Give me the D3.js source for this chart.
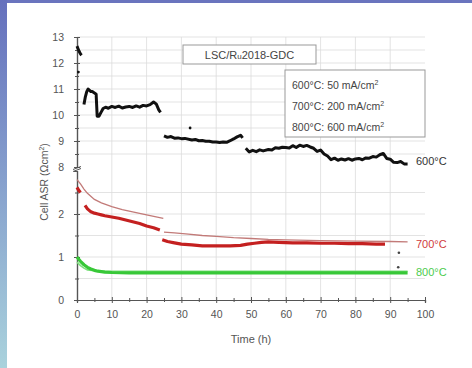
<!DOCTYPE html>
<html>
<head>
<meta charset="utf-8">
<script src="https://cdn.jsdelivr.net/npm/d3@7"></script>
<style>
  body { margin: 0; background: #fff; }
  svg { display: block; font-family: "Liberation Sans", Arial, sans-serif; }
</style>
</head>
<body>
<div id="chart"></div>
<script>
// 600°C (upper part of the broken axis)
var t600 = [0, 0.3, 0.6, 1.0, 1.3, null,
  2.0, 2.4, 2.8, 3.2, 3.6, 4.0, 4.4, 5.0, 5.5, 5.8, 6.3, 6.9, 7.5, 8.2, 9, 10, 11, 12, 13, 14, 15, 16, 17, 18, 19, 20, 21, 22, 22.8, 23.5, 24, null,
  25, 26, 27, 28, 29, 30, 31, 33, 34, 35, 36, 37, 38, 39, 40, 41, 42, 43, 44, 45, 46, 47, 47.6, null,
  48.5, 49.5, 50.5, 51.5, 52.5, 53.5, 55, 56, 57, 58, 59, 60, 61, 62, 63, 64, 65, 66, 67, 68, 69, 70, 71, 72, 73, 74, 75, 76, 77, 78, 79, 80, 81, 82, 83, 84, 85, 86, 87, 88, 89, 90, 91, 92, 93, 94, 95];
var v600 = [12.65, 12.55, 12.45, 12.35, 12.3, null,
  10.4, 10.7, 10.9, 11.0, 10.95, 10.9, 10.9, 10.85, 10.8, 9.95, 9.95, 10.1, 10.25, 10.3, 10.26, 10.33, 10.29, 10.34, 10.27, 10.31, 10.33, 10.29, 10.35, 10.3, 10.37, 10.35, 10.4, 10.5, 10.42, 10.2, 10.1, null,
  9.2, 9.14, 9.17, 9.11, 9.12, 9.09, 9.1, 9.04, 9.06, 9.01, 9.02, 8.99, 8.99, 8.96, 8.96, 8.94, 8.96, 8.95, 9.01, 9.08, 9.16, 9.22, 9.12, null,
  8.72, 8.58, 8.64, 8.59, 8.66, 8.62, 8.67, 8.65, 8.74, 8.72, 8.76, 8.75, 8.73, 8.82, 8.75, 8.84, 8.79, 8.83, 8.77, 8.72, 8.6, 8.65, 8.5, 8.42, 8.28, 8.34, 8.26, 8.31, 8.27, 8.32, 8.26, 8.31, 8.33, 8.28, 8.35, 8.34, 8.4, 8.38, 8.47, 8.52, 8.33, 8.3, 8.18, 8.17, 8.21, 8.12, 8.12];
var t600pts = [0.4, 32.5];
var v600pts = [11.65, 9.5];

// 700°C thick (red) and thin reference line
var t700 = [0, 0.5, 1.0, null,
  2.3, 3, 4, 5, 6, 7, 8, 10, 12, 14, 16, 18, 20, 22, 23.8, null,
  24.5, 26, 28, 30, 33, 36, 40, 44, 47, 49, 51, 53, 55, 58, 62, 66, 70, 74, 78, 82, 86, 88.5];
var v700 = [2.62, 2.55, 2.5, null,
  2.2, 2.12, 2.05, 2.02, 2.0, 1.98, 1.96, 1.93, 1.9, 1.86, 1.82, 1.78, 1.72, 1.68, 1.63, null,
  1.4, 1.36, 1.33, 1.3, 1.28, 1.26, 1.26, 1.26, 1.27, 1.3, 1.32, 1.34, 1.35, 1.34, 1.33, 1.33, 1.32, 1.32, 1.31, 1.31, 1.3, 1.3];
var t700thin = [0, 1, 2, 3, 5, 7, 10, 13, 16, 20, 24.8, null,
  25, 28, 32, 36, 40, 45, 50, 55, 60, 70, 80, 90, 95];
var v700thin = [2.8, 2.7, 2.58, 2.48, 2.34, 2.26, 2.17, 2.1, 2.05, 1.98, 1.9, null,
  1.58, 1.56, 1.53, 1.5, 1.48, 1.45, 1.43, 1.41, 1.4, 1.38, 1.37, 1.36, 1.35];

// 800°C thick and thin (green)
var t800 = [0, 0.5, 1, 2, 3, 4, 5, 6, 8, 10, 15, 20, 30, 40, 50, 60, 70, 80, 90, 95];
var v800 = [1.0, 0.95, 0.9, 0.82, 0.76, 0.72, 0.69, 0.67, 0.65, 0.64, 0.63, 0.63, 0.63, 0.63, 0.63, 0.63, 0.63, 0.63, 0.63, 0.63];
var t800thin = [0, 1, 2, 3, 5, 8, 12, 20, 40, 60, 80, 95];
var v800thin = [0.88, 0.8, 0.74, 0.7, 0.68, 0.67, 0.67, 0.67, 0.67, 0.67, 0.67, 0.67];
var tOut = [92.5, 92.3];
var vOut = [1.1, 0.76];

var xTicks = [0, 10, 20, 30, 40, 50, 60, 70, 80, 90, 100];
var yTicksLow = [0, 1, 2];
var yTicksHigh = [8, 9, 10, 11, 12, 13];
var legendLines = ["600°C: 50 mA/cm", "700°C: 200 mA/cm", "800°C: 600 mA/cm"];

var W = 472, H = 368;
var svg = d3.select("#chart").append("svg").attr("width", W).attr("height", H);

// frame of the slide
var grad = svg.append("defs").append("linearGradient")
    .attr("id", "side").attr("x1", 0).attr("y1", 0).attr("x2", 0).attr("y2", 1);
grad.append("stop").attr("offset", "0%").attr("stop-color", "#6570bd");
grad.append("stop").attr("offset", "55%").attr("stop-color", "#8aa6cf");
grad.append("stop").attr("offset", "100%").attr("stop-color", "#a9d2dc");
svg.append("rect").attr("x", 0).attr("y", 0).attr("width", W).attr("height", 3).attr("fill", "#6a74be");
svg.append("rect").attr("x", 0).attr("y", 0).attr("width", 7).attr("height", H).attr("fill", "url(#side)");

var x = d3.scaleLinear().domain([0, 100]).range([77, 425]);
var yLow = d3.scaleLinear().domain([0, 3]).range([300, 171]);
var yHigh = d3.scaleLinear().domain([8, 13]).range([167, 37]);

// grid
var grid = svg.append("g").attr("stroke", "#dcdcdc").attr("stroke-width", 0.8);
d3.range(10, 100, 10).forEach(function(d) {
  grid.append("line").attr("x1", x(d)).attr("x2", x(d)).attr("y1", yHigh(13)).attr("y2", yLow(0));
});
d3.range(8.5, 13.01, 0.5).forEach(function(d) {
  grid.append("line").attr("x1", x(0)).attr("x2", x(100)).attr("y1", yHigh(d)).attr("y2", yHigh(d));
});
d3.range(0.5, 2.6, 0.5).forEach(function(d) {
  grid.append("line").attr("x1", x(0)).attr("x2", x(100)).attr("y1", yLow(d)).attr("y2", yLow(d));
});

// axes
var axisCol = "#555";
var fmt = d3.format("d");
var xAxis = svg.append("g").attr("transform", "translate(0," + yLow(0) + ")")
    .call(d3.axisBottom(x).tickValues(xTicks).tickFormat(fmt).tickSize(3).tickPadding(8));
var xMinor = svg.append("g").attr("transform", "translate(0," + yLow(0) + ")")
    .call(d3.axisBottom(x).tickValues(d3.range(5, 100, 10)).tickSize(2).tickFormat(""));
var yAxisLow = svg.append("g").attr("transform", "translate(" + x(0) + ",0)")
    .call(d3.axisLeft(yLow).tickValues(yTicksLow).tickFormat(fmt).tickSize(3).tickPadding(10));
var yMinorLow = svg.append("g").attr("transform", "translate(" + x(0) + ",0)")
    .call(d3.axisLeft(yLow).tickValues([0.5, 1.5, 2.5]).tickSize(2).tickFormat(""));
var yAxisHigh = svg.append("g").attr("transform", "translate(" + x(0) + ",0)")
    .call(d3.axisLeft(yHigh).tickValues(yTicksHigh).tickFormat(fmt).tickSize(3).tickPadding(10));
var yMinorHigh = svg.append("g").attr("transform", "translate(" + x(0) + ",0)")
    .call(d3.axisLeft(yHigh).tickValues(d3.range(8.5, 13, 1)).tickSize(2).tickFormat(""));
[xAxis, xMinor, yAxisLow, yMinorLow, yAxisHigh, yMinorHigh].forEach(function(a) {
  a.selectAll(".domain").attr("stroke", axisCol).attr("stroke-width", 1.2);
  a.selectAll(".tick line").attr("stroke", axisCol);
  a.selectAll("text").attr("fill", "#555").attr("font-size", 10.5);
});
// ticks crossing the axis line
xAxis.selectAll(".tick line").attr("y1", -3);
xMinor.selectAll(".tick line").attr("y1", -2);
[yAxisLow, yAxisHigh].forEach(function(a) { a.selectAll(".tick line").attr("x1", 3); });
[yMinorLow, yMinorHigh].forEach(function(a) { a.selectAll(".tick line").attr("x1", 2); });
// axis break marks
svg.append("g").attr("stroke", axisCol).attr("stroke-width", 1)
  .selectAll("line").data([yHigh(8) + 1, yLow(3) - 1]).join("line")
  .attr("x1", x(0) - 4).attr("x2", x(0) + 4)
  .attr("y1", function(d) { return d + 1.5; }).attr("y2", function(d) { return d - 1.5; });

// axis titles
svg.append("text").attr("x", x(50)).attr("y", 343).attr("text-anchor", "middle")
  .attr("font-size", 11).attr("fill", "#555").text("Time (h)");
var yt = svg.append("text").attr("transform", "translate(48,182) rotate(-90)")
  .attr("text-anchor", "middle").attr("font-size", 10.5).attr("fill", "#555");
yt.append("tspan").text("Cell ASR (Ωcm");
yt.append("tspan").attr("dy", -4).attr("font-size", 7).text("2");
yt.append("tspan").attr("dy", 4).text(")");

// series
function lineOn(y) {
  return d3.line()
    .defined(function(d) { return d[0] !== null; })
    .x(function(d) { return x(d[0]); })
    .y(function(d) { return y(d[1]); });
}
function zipped(ts, vs) { return ts.map(function(t, i) { return [t, vs[i]]; }); }

svg.append("path").datum(zipped(t700thin, v700thin))
  .attr("fill", "none").attr("stroke", "#c27a78").attr("stroke-width", 1.3)
  .attr("d", lineOn(yLow));
svg.append("path").datum(zipped(t800thin, v800thin))
  .attr("fill", "none").attr("stroke", "#7ee07e").attr("stroke-width", 1.6)
  .attr("d", lineOn(yLow));
svg.append("path").datum(zipped(t700, v700))
  .attr("fill", "none").attr("stroke", "#c42020").attr("stroke-width", 3.2)
  .attr("stroke-linejoin", "round").attr("d", lineOn(yLow));
svg.append("path").datum(zipped(t800, v800))
  .attr("fill", "none").attr("stroke", "#38c838").attr("stroke-width", 3.2)
  .attr("stroke-linejoin", "round").attr("d", lineOn(yLow));
svg.append("path").datum(zipped(t600, v600))
  .attr("fill", "none").attr("stroke", "#111").attr("stroke-width", 3)
  .attr("stroke-linejoin", "round").attr("d", lineOn(yHigh));
svg.selectAll(".p600").data(zipped(t600pts, v600pts)).join("circle")
  .attr("cx", function(d) { return x(d[0]); }).attr("cy", function(d) { return yHigh(d[1]); })
  .attr("r", 1.4).attr("fill", "#111");
svg.selectAll(".pout").data(zipped(tOut, vOut)).join("circle")
  .attr("cx", function(d) { return x(d[0]); }).attr("cy", function(d) { return yLow(d[1]); })
  .attr("r", 1.3).attr("fill", "#444");

// series labels
svg.append("text").attr("x", 416).attr("y", yHigh(8.14) + 2).attr("font-size", 11).attr("fill", "#333").text("600°C");
svg.append("text").attr("x", 416).attr("y", yLow(1.3) + 4).attr("font-size", 11).attr("fill", "#d03c3c").text("700°C");
svg.append("text").attr("x", 416).attr("y", yLow(0.65) + 4).attr("font-size", 11).attr("fill", "#4ccc4c").text("800°C");

// title box
svg.append("rect").attr("x", 183).attr("y", 45).attr("width", 133).attr("height", 19)
  .attr("fill", "#fff").attr("stroke", "#999");
var tt = svg.append("text").attr("x", 249.5).attr("y", 58.5).attr("text-anchor", "middle")
  .attr("font-size", 11).attr("fill", "#444");
tt.append("tspan").text("LSC/R");
tt.append("tspan").attr("font-size", 8).text("u");
tt.append("tspan").text("2018-GDC");

// legend box
svg.append("rect").attr("x", 285).attr("y", 70).attr("width", 140).attr("height", 67)
  .attr("fill", "#fff").attr("stroke", "#999");
legendLines.forEach(function(s, i) {
  var t = svg.append("text").attr("x", 292).attr("y", 89 + i * 21)
    .attr("font-size", 10.5).attr("fill", "#444");
  t.append("tspan").text(s);
  t.append("tspan").attr("dy", -4).attr("font-size", 7).text("2");
});
</script>
</body>
</html>
